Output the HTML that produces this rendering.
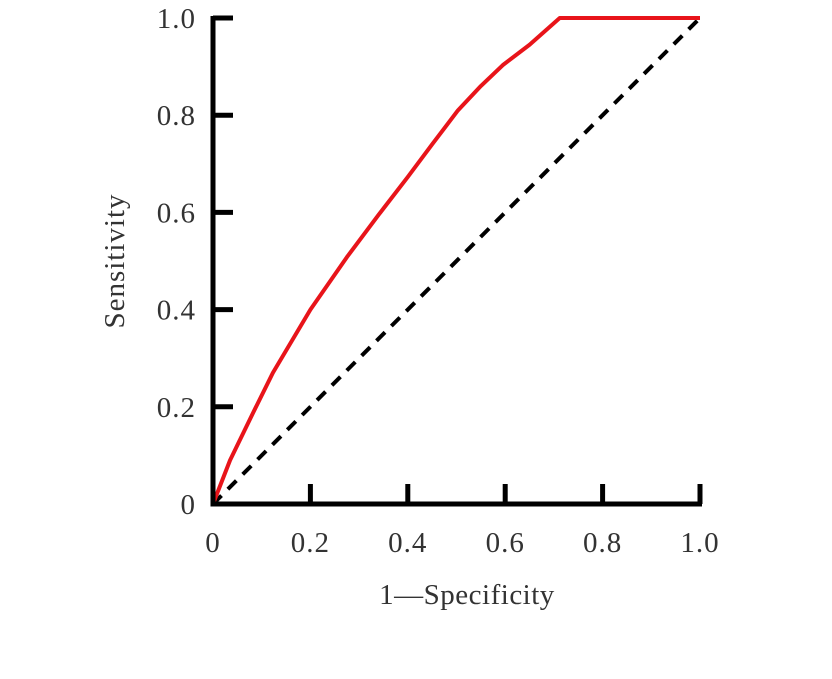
<!DOCTYPE html>
<html><head><meta charset="utf-8"><style>
body{margin:0;background:#fff}
svg text{font-family:"Liberation Serif",serif;fill:#333}
</style></head><body>
<svg width="832" height="674">
<g id="plot"></g>
</svg>
<script>
const fpr=[0,0.035,0.082,0.123,0.2,0.275,0.34,0.4,0.45,0.503,0.55,0.595,0.65,0.712,1.0];
const tpr=[0,0.09,0.187,0.27,0.4,0.508,0.595,0.673,0.74,0.81,0.86,0.903,0.945,1.0,1.0];
const xTicks=[0,0.2,0.4,0.6,0.8,1.0];
const xTickLabels=["0","0.2","0.4","0.6","0.8","1.0"];
const yTicks=[0,0.2,0.4,0.6,0.8,1.0];
const yTickLabels=["0","0.2","0.4","0.6","0.8","1.0"];
const X0=213,X1=700,Y0=504,Y1=18;
const sx=v=>X0+v*(X1-X0), sy=v=>Y0-v*(Y0-Y1);
const g=document.getElementById('plot'),NS="http://www.w3.org/2000/svg";
function mk(t,a){const e=document.createElementNS(NS,t);for(const k in a)e.setAttribute(k,a[k]);g.appendChild(e);return e;}
let e;
e=mk('line',{x1:sx(0),y1:sy(0),x2:sx(1),y2:sy(1),stroke:'#000','stroke-width':4,'stroke-dasharray':'12,9'});


e=mk('polyline',{points:fpr.map((v,i)=>sx(v)+','+sy(tpr[i])).join(' '),fill:'none',stroke:'#e8141a','stroke-width':4,'stroke-linejoin':'round'});


e=mk('path',{d:`M${X0} ${Y1-2}V${Y0}H${X1+2}`,fill:'none',stroke:'#000','stroke-width':5});


yTicks.forEach((v,i)=>{
 if(v>0){e=mk('line',{x1:X0,x2:X0+20,y1:sy(v),y2:sy(v),stroke:'#000','stroke-width':5});
 
 }
 e=mk('text',{x:X0-17,y:sy(v)+10,'text-anchor':'end','font-size':29,'letter-spacing':1});
 e.textContent=yTickLabels[i];
 
 
});
xTicks.forEach((v,i)=>{
 if(v>0){e=mk('line',{x1:sx(v),x2:sx(v),y1:Y0,y2:Y0-20,stroke:'#000','stroke-width':5});
 
 }
 e=mk('text',{x:sx(v),y:552,'text-anchor':'middle','font-size':29,'letter-spacing':1});
 e.textContent=xTickLabels[i];
 
 
});
e=mk('text',{x:467,y:604,'text-anchor':'middle','font-size':29,'letter-spacing':0.5});
e.textContent='1\u2014Specificity';


e=mk('text',{x:0,y:0,'text-anchor':'middle','font-size':29,'letter-spacing':1,transform:'translate(124,261) rotate(-90)'});
e.textContent='Sensitivity';


</script>
</body></html>
